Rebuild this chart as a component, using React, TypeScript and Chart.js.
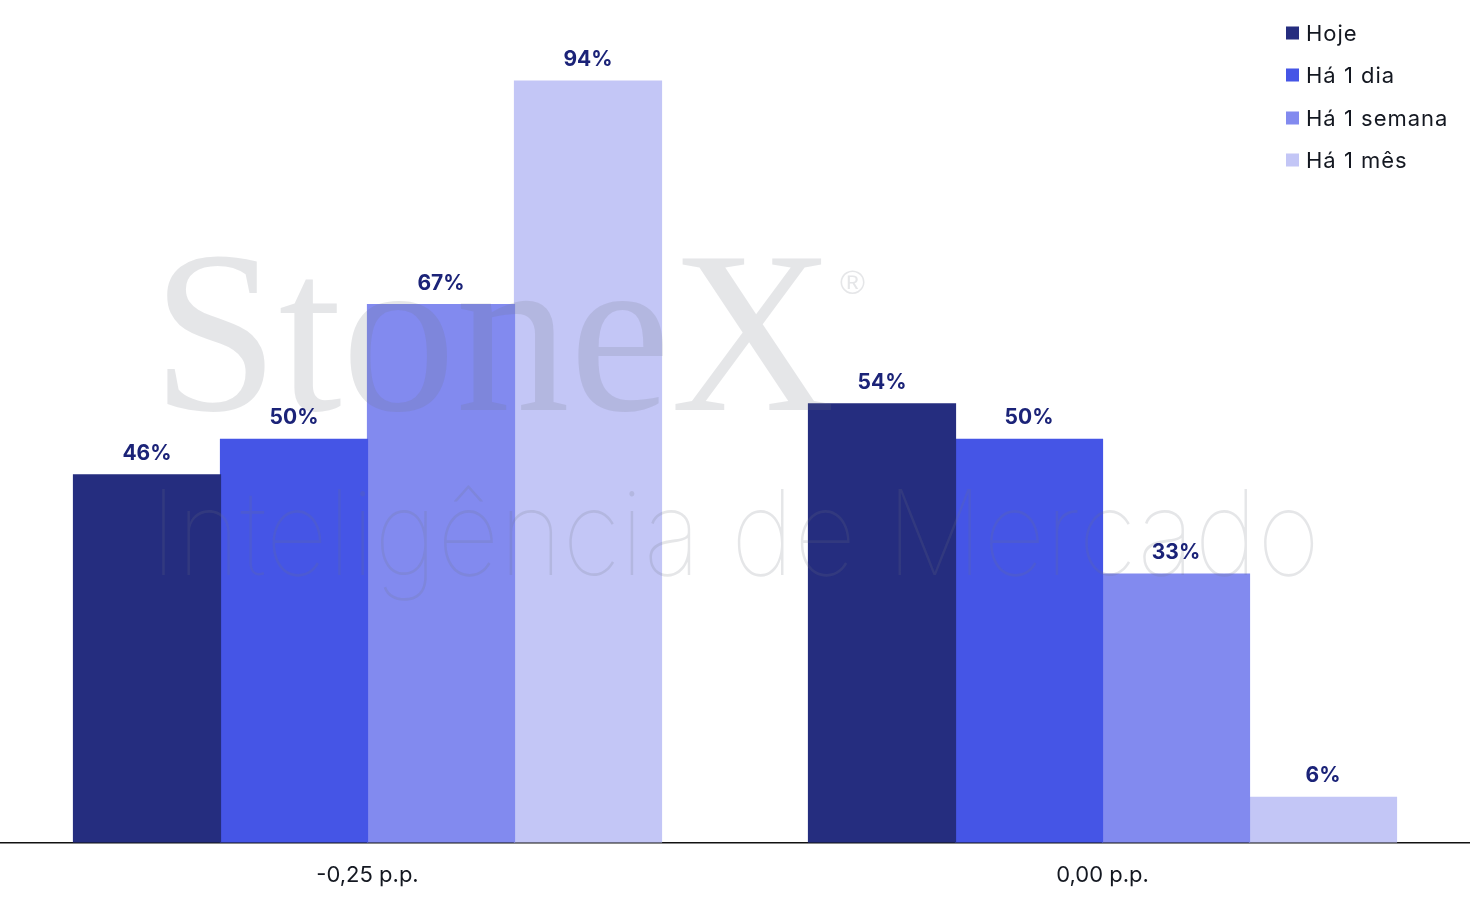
import React, { useEffect, useRef } from "react";
import { Chart, registerables } from "chart.js";
Chart.register(...registerables);

const categories = ["-0,25 p.p.", "0,00 p.p."];
const seriesNames = ["Hoje", "Há 1 dia", "Há 1 semana", "Há 1 mês"];
const hoje = [45.6, 54.4];
const ha1dia = [50, 50];
const ha1semana = [66.7, 33.3];
const ha1mes = [94.4, 5.6];
const seriesColors = ["#252d7f", "#4555e6", "#828aef", "#c3c6f6"];

const watermarkPlugin = {
  id: "watermark",
  afterDatasetsDraw(chart: any) {
    const ctx = chart.ctx;
    ctx.save();
    ctx.fillStyle = "rgba(110,118,130,0.18)";
    ctx.textBaseline = "alphabetic";
    ctx.textAlign = "left";
    ctx.font = "230px 'Liberation Serif', 'DejaVu Serif', serif";
    let w = ctx.measureText("StoneX").width;
    ctx.save();
    ctx.translate(152, 410);
    ctx.scale(683 / w, 1);
    ctx.fillText("StoneX", 0, 0);
    ctx.restore();
    ctx.font = "34px 'Liberation Sans', sans-serif";
    ctx.fillText("®", 840, 294);
    ctx.font = "100 118px Inter, 'Liberation Sans', sans-serif";
    const t = "Inteligência de Mercado";
    w = ctx.measureText(t).width;
    ctx.save();
    ctx.translate(150, 575);
    ctx.scale(1170 / w, 1);
    ctx.fillText(t, 0, 0);
    ctx.restore();
    ctx.restore();
  },
};

const dataLabelPlugin = {
  id: "dataLabels",
  afterDatasetsDraw(chart: any) {
    const ctx = chart.ctx;
    ctx.save();
    ctx.font = "bold 21px Inter, 'Liberation Sans', sans-serif";
    ctx.fillStyle = "#1b2378";
    ctx.textAlign = "center";
    ctx.textBaseline = "alphabetic";
    chart.data.datasets.forEach((ds: any, i: number) => {
      const meta = chart.getDatasetMeta(i);
      meta.data.forEach((bar: any, j: number) => {
        const v = ds.data[j];
        ctx.fillText(Math.round(v) + "%", bar.x, bar.y - 15);
      });
    });
    ctx.restore();
  },
};

const legendPlugin = {
  id: "customLegend",
  afterDraw(chart: any) {
    const ctx = chart.ctx;
    ctx.save();
    ctx.font = "22px Inter, 'Liberation Sans', sans-serif";
    ctx.textBaseline = "middle";
    ctx.textAlign = "left";
    (ctx as any).letterSpacing = "1px";
    const rows = [33, 75, 118, 160];
    seriesNames.forEach((name, i) => {
      const cy = rows[i];
      ctx.fillStyle = seriesColors[i];
      ctx.fillRect(1286, cy - 6.5, 13, 13);
      ctx.fillStyle = "#141821";
      ctx.fillText(name, 1306, cy + 1);
    });
    ctx.restore();
  },
};

export default function App() {
  const ref = useRef<HTMLCanvasElement | null>(null);
  useEffect(() => {
    if (!ref.current) return;
    const seriesData = [hoje, ha1dia, ha1semana, ha1mes];
    const chart = new Chart(ref.current, {
      type: "bar",
      data: {
        labels: categories,
        datasets: seriesNames.map((name, i) => ({
          label: name,
          data: seriesData[i],
          backgroundColor: seriesColors[i],
          borderWidth: 0,
          inflateAmount: 0.6,
          categoryPercentage: 0.8,
          barPercentage: 1.0,
        })),
      },
      options: {
        animation: false,
        responsive: false,
        devicePixelRatio: 1,
        layout: { padding: { top: 36, bottom: 0, left: 0, right: 0 } },
        plugins: { legend: { display: false }, tooltip: { enabled: false } },
        scales: {
          x: {
            grid: { display: false, drawTicks: false },
            border: { display: true, color: "#111", width: 1.5 },
            ticks: {
              font: { family: "Inter, 'Liberation Sans', sans-serif", size: 22 },
              color: "#141821",
              padding: 20,
            },
          },
          y: { display: false, min: 0, max: 100 },
        },
      },
      plugins: [watermarkPlugin, dataLabelPlugin, legendPlugin],
    });
    return () => chart.destroy();
  }, []);
  return (
    <div style={{ position: "fixed", left: 0, top: 0, width: 1470, height: 909, background: "#fff" }}>
      <canvas ref={ref} width={1470} height={909} style={{ width: 1470, height: 909 }} />
    </div>
  );
}
